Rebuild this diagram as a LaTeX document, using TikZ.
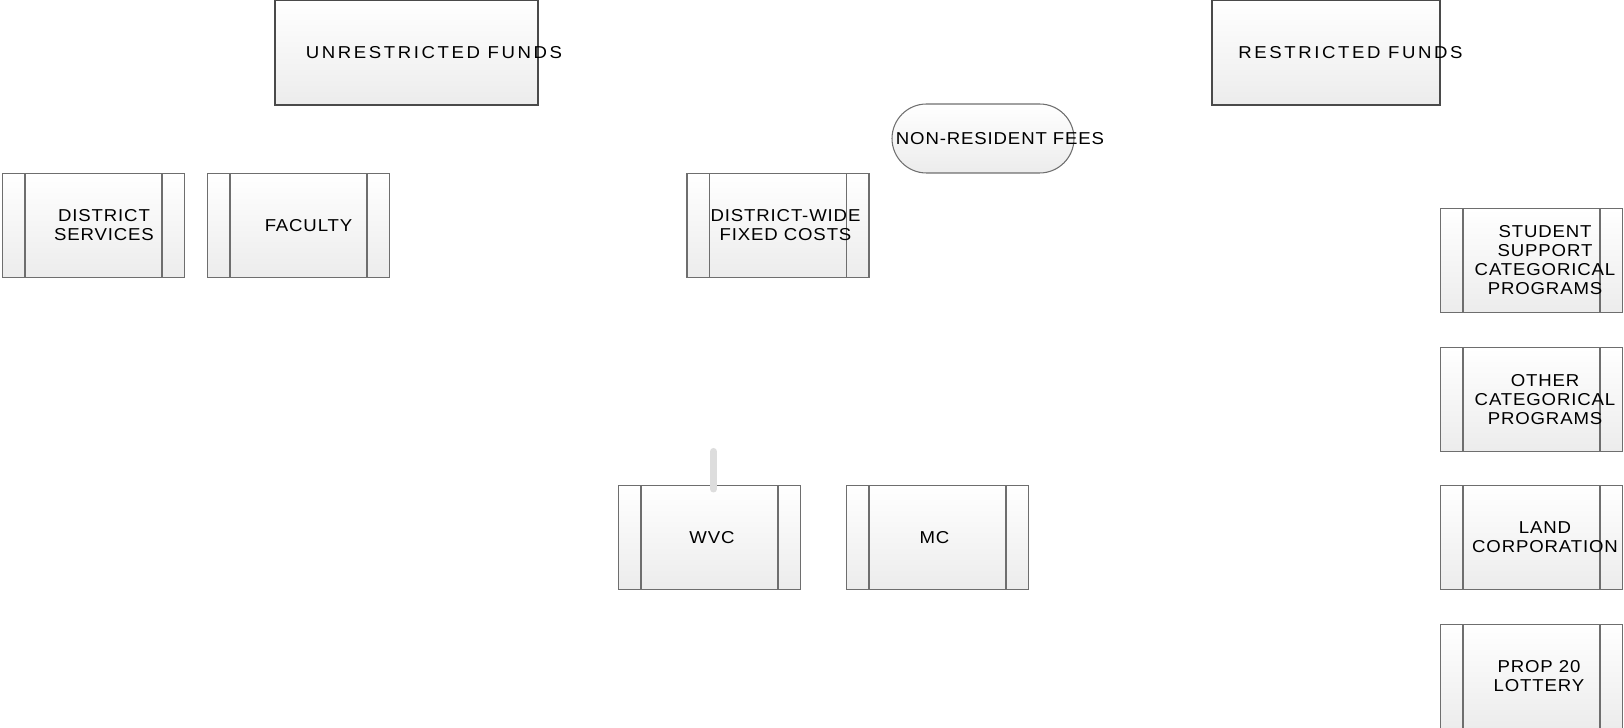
\documentclass[tikz,border=0pt]{standalone}
\usepackage{fontspec}
\setmainfont{Liberation Sans}
\usetikzlibrary{positioning}
\usetikzlibrary{shapes}
\definecolor{edgeGray}{HTML}{6E6E6E}
\definecolor{fundGray}{HTML}{4A4A4A}
\definecolor{fillGray}{HTML}{ECECEC}
\definecolor{stubGray}{HTML}{DDDDDD}
\tikzset{
    procText/.style={font=\fontsize{9.8}{10.8}\selectfont\addfontfeature{FakeStretch=1.08,LetterSpace=5}, align=center, inner sep=0pt},
    fundText/.style={font=\fontsize{9.8}{10.8}\selectfont\addfontfeature{FakeStretch=1.08,LetterSpace=15}, inner sep=0pt}
}
\tikzset{
    procBox/.style={draw=edgeGray, line width=0.6pt, top color=white, bottom color=fillGray,
        minimum width=3.64cm, minimum height=2.08cm, inner sep=0pt,
        path picture={
            \draw[edgeGray, line width=0.8pt] ([xshift=0.45cm]path picture bounding box.north west) -- ([xshift=0.45cm]path picture bounding box.south west);
            \draw[edgeGray, line width=0.8pt] ([xshift=-0.45cm]path picture bounding box.north east) -- ([xshift=-0.45cm]path picture bounding box.south east);
        }},
    fundBox/.style={draw=fundGray, line width=1.4pt, top color=white, bottom color=fillGray,
        minimum height=2.1cm, inner sep=0pt},
    feeBox/.style={rounded rectangle, draw=edgeGray, line width=0.6pt, top color=white, bottom color=fillGray,
        minimum width=3.64cm, minimum height=1.38cm, inner sep=0pt}
}
\begin{document}
\begin{tikzpicture}
    \useasboundingbox (0,0) rectangle (32.48,-14.56);
    % fund headers
    \node[fundBox, minimum width=5.26cm, label={[fundText, xshift=0.55cm]center:UNRESTRICTED FUNDS}] (unres) at (8.13,-1.05) {};
    \node[fundBox, minimum width=4.56cm, label={[fundText, xshift=0.49cm]center:RESTRICTED FUNDS}] (res) at (26.52,-1.05) {};
    \node[feeBox, label={[procText, xshift=0.34cm]center:NON-RESIDENT FEES}] (fees) at (19.66,-2.77) {};
    % unrestricted row
    \node[procBox, label={[procText, xshift=0.21cm]center:DISTRICT\\SERVICES}] (dist) at (1.87,-4.51) {};
    \node[procBox, label={[procText, xshift=0.2cm]center:FACULTY}] (fac) at (5.97,-4.51) {};
    \node[procBox, label={[procText, xshift=0.15cm]center:DISTRICT-WIDE\\FIXED COSTS}] (fixed) at (15.56,-4.51) {};
    \node[procBox, label={[procText, xshift=0.05cm]center:WVC}] (wvc) at (14.19,-10.75) {};
    \node[procBox, label={[procText, xshift=-0.06cm]center:MC}] (mc) at (18.75,-10.75) {};
    % restricted column
    \node[procBox, label={[procText, xshift=0.27cm]center:STUDENT\\SUPPORT\\CATEGORICAL\\PROGRAMS}] (ssp) at (30.63,-5.21) {};
    \node[procBox, label={[procText, xshift=0.27cm]center:OTHER\\CATEGORICAL\\PROGRAMS}] (ocp) at (30.63,-7.99) {};
    \node[procBox, label={[procText, xshift=0.27cm]center:LAND\\CORPORATION}] (land) at (30.63,-10.75) {};
    \node[procBox, label={[procText, xshift=0.15cm]center:PROP 20\\LOTTERY}] (prop) at (30.63,-13.53) {};
    % stub above WVC
    \coordinate (stubTop) at ([xshift=0.08cm, yshift=0.67cm]wvc.north);
    \draw[stubGray, line width=4pt, line cap=round] ([xshift=0.08cm, yshift=-0.08cm]wvc.north) -- (stubTop);
\end{tikzpicture}
\end{document}
